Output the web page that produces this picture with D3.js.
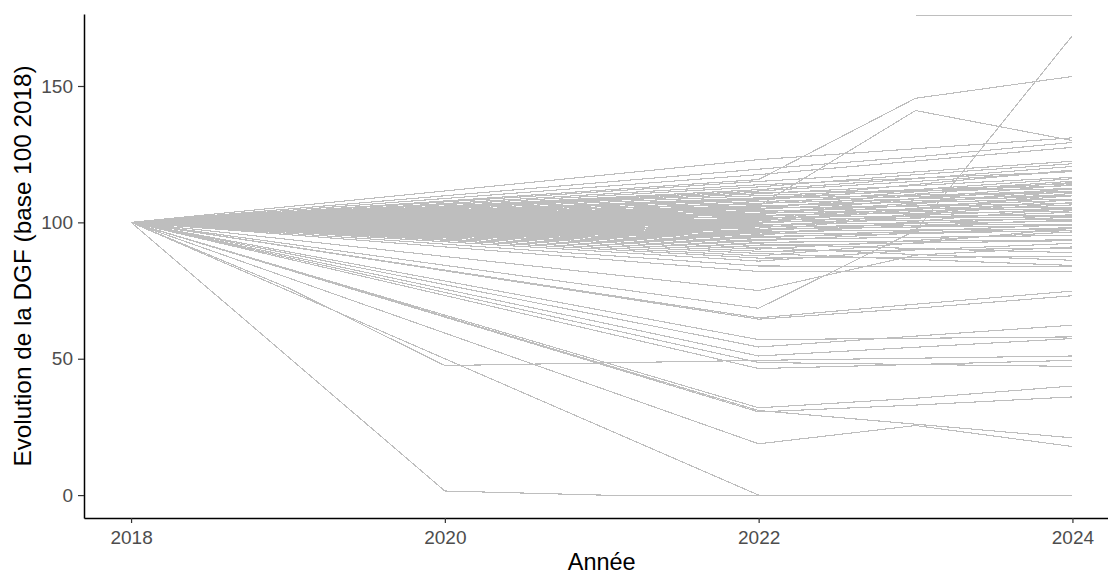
<!DOCTYPE html>
<html><head><meta charset="utf-8">
<script src="https://cdn.jsdelivr.net/npm/d3@7"></script>
<style>
body{margin:0;background:#fff}
svg{display:block;font-family:"Liberation Sans",Arial,sans-serif}
</style>
</head><body>
<svg id="chart" width="1108" height="575"></svg>
<script>
// ---- data ----
const years = [2018, 2019, 2020, 2021, 2022, 2023, 2024];
const xTickValues = [2018, 2020, 2022, 2024];
const yTickValues = [0, 50, 100, 150];
const xTitle = "Année";
const yTitle = "Evolution de la DGF (base 100 2018)";

// series falling sharply (values per year, null = not observed)
const lowerSeries = [
  [100, null, 1.5, 0, 0, 0, 0],
  [100, null, null, null, 0, 0, 0],
  [100, 76, 47.5, null, 49.4, null, 51],
  [100, null, null, null, 18.8, 25.5, 17.8],
  [100, null, null, null, 31, 26, 21],
  [100, null, null, null, 32, 35.5, 40],
  [100, null, null, null, 30.5, 33, 36],
  [100, null, null, null, 54.3, null, 62.3],
  [100, null, null, null, 48.6, null, 47.2],
  [100, null, null, null, 46.4, null, 49.4],
  [100, null, null, null, 68.5, 97, 168.5],
  [100, null, null, null, 75, 88, 91],
  [100, null, null, null, 65, 70, 74.8],
  [100, null, null, null, 64.5, 68.5, 73.1],
  [100, null, null, null, 57, null, 58],
  [100, null, null, null, 51, null, 57.4],
  [100, null, null, null, 82, null, 82],
  [100, null, null, null, 84, null, 83.7]
];

// series rising strongly
const upperSeries = [
  [100, null, null, null, 123, 127, 131],
  [100, null, null, null, 119.5, 124, 129.3],
  [100, null, null, null, 117.5, 122.5, 127.5],
  [100, null, null, null, 115.7, 145.5, 153.5],
  [100, null, null, null, 106, 141, 130],
  [null, null, null, null, null, 176, 176]
];

// dense central bundle: 2018, 2022, 2023, 2024
const clusterSeries = [
  [100, null, null, null, 115, 118.5, 122.4],
  [100, null, null, null, 113, 117.5, 121.5],
  [100, null, null, null, 112, 116, 120.5],
  [100, null, null, null, 111.5, 115, 118.7],
  [100, null, null, null, 110.5, 113.5, 116.5],
  [100, null, null, null, 109.8, 112, 114.2],
  [100, null, null, null, 109, 111.5, 113.5],
  [100, null, null, null, 108.7, 110, 111.4],
  [100, null, null, null, 108.2, 112, 116],
  [100, null, null, null, 107.6, 109.5, 111],
  [100, null, null, null, 107, 108.6, 110],
  [100, null, null, null, 106.7, 111.2, 115.1],
  [100, null, null, null, 106.1, 107.4, 108.5],
  [100, null, null, null, 105.6, 108.7, 112.2],
  [100, null, null, null, 105.2, 106, 106.9],
  [100, null, null, null, 104.8, 107.9, 109.7],
  [100, null, null, null, 104.3, 104.9, 105.6],
  [100, null, null, null, 103.9, 106.2, 108.1],
  [100, null, null, null, 103.4, 104.4, 105],
  [100, null, null, null, 103, 107.1, 111.3],
  [100, null, null, null, 102.6, 103.3, 104.2],
  [100, null, null, null, 102.1, 104.8, 107.2],
  [100, null, null, null, 101.8, 102.2, 102.7],
  [100, null, null, null, 101.3, 103.9, 106.4],
  [100, null, null, null, 100.9, 101.6, 102.1],
  [100, null, null, null, 100.5, 105.2, 109.8],
  [100, null, null, null, 100.1, 100.7, 101.2],
  [100, null, null, null, 99.7, 102.5, 104.9],
  [100, null, null, null, 99.2, 99.8, 100.3],
  [100, null, null, null, 98.8, 101.6, 103.7],
  [100, null, null, null, 98.4, 98.9, 99.3],
  [100, null, null, null, 97.9, 103.1, 108.4],
  [100, null, null, null, 97.5, 98.3, 98.8],
  [100, null, null, null, 97, 99.6, 101.9],
  [100, null, null, null, 96.6, 97.2, 97.6],
  [100, null, null, null, 96.1, 98.9, 100.8],
  [100, null, null, null, 95.7, 96.3, 96.9],
  [100, null, null, null, 95.2, 100.4, 105.3],
  [100, null, null, null, 94.8, 95.9, 97.1],
  [100, null, null, null, 94.3, 96.8, 99.2],
  [100, null, null, null, 93.8, 94.5, 95.2],
  [100, null, null, null, 93.2, 96.1, 98.1],
  [100, null, null, null, 92.7, 93.1, 93.6],
  [100, null, null, null, 92.1, 90.4, 88.9],
  [100, null, null, null, 91.5, 92.4, 93.3],
  [100, null, null, null, 90.8, 88.2, 86.1],
  [100, null, null, null, 90.2, 93.4, 96.5],
  [100, null, null, null, 89.4, 89.9, 90.6],
  [100, null, null, null, 88.6, 86.4, 84.2],
  [100, null, null, null, 87.7, 92.5, 97.8],
  [100, null, null, null, 86.9, 87.2, 87.5],
  [100, null, null, null, 85.8, 89.9, 92.3],
  [100, null, null, null, 113.8, 116.2, 118.6],
  [100, null, null, null, 111, 111.6, 112.3],
  [100, null, null, null, 108.4, 113.9, 119.2],
  [100, null, null, null, 105, 110.4, 114.6],
  [100, null, null, null, 102.8, 108.8, 113.9],
  [100, null, null, null, 101, 106.7, 112.6],
  [100, null, null, null, 99.9, 104.7, 110.7],
  [100, null, null, null, 96.9, 102.7, 107.3]
];

// ---- chart ----
const svg = d3.select("#chart");
const x = d3.scaleLinear().domain([2017.7, 2024.3]).range([84, 1119.5]);
const y = d3.scaleLinear().domain([-8.4, 176.4]).range([518, 14]);

const allSeries = clusterSeries.concat(lowerSeries, upperSeries);
const line = d3.line().x(d => x(d.year)).y(d => y(d.value));

svg.append("g")
  .selectAll("path")
  .data(allSeries.map(vals => years.map((yr, i) => ({year: yr, value: vals[i]})).filter(p => p.value !== null)))
  .join("path")
  .attr("d", line)
  .attr("fill", "none")
  .attr("stroke", "#bebebe")
  .attr("stroke-width", 1.1)
  .attr("shape-rendering", "crispEdges");

// axes
const xAxis = svg.append("g")
  .attr("transform", "translate(0,518)")
  .call(d3.axisBottom(x).tickValues(xTickValues).tickFormat(d3.format("d")).tickSize(5).tickSizeOuter(0).tickPadding(8));
const yAxis = svg.append("g")
  .attr("transform", "translate(84,0)")
  .call(d3.axisLeft(y).tickValues(yTickValues).tickSize(6).tickSizeOuter(0).tickPadding(5));

[xAxis, yAxis].forEach(g => {
  g.select(".domain").attr("stroke", "#000").attr("stroke-width", 1.5);
  g.selectAll(".tick line").attr("stroke", "#333").attr("stroke-width", 1.2);
  g.selectAll(".tick text").attr("fill", "#4d4d4d").style("font-size", "19px")
    .style("font-family", '"Liberation Sans", Arial, sans-serif');
});

svg.append("text")
  .attr("x", 601.7).attr("y", 570)
  .attr("text-anchor", "middle")
  .style("font-size", "23.5px").attr("fill", "#000")
  .text(xTitle);

svg.append("text")
  .attr("transform", "translate(31,266) rotate(-90)")
  .attr("text-anchor", "middle")
  .style("font-size", "24.3px").attr("fill", "#000")
  .text(yTitle);
</script>
</body></html>
